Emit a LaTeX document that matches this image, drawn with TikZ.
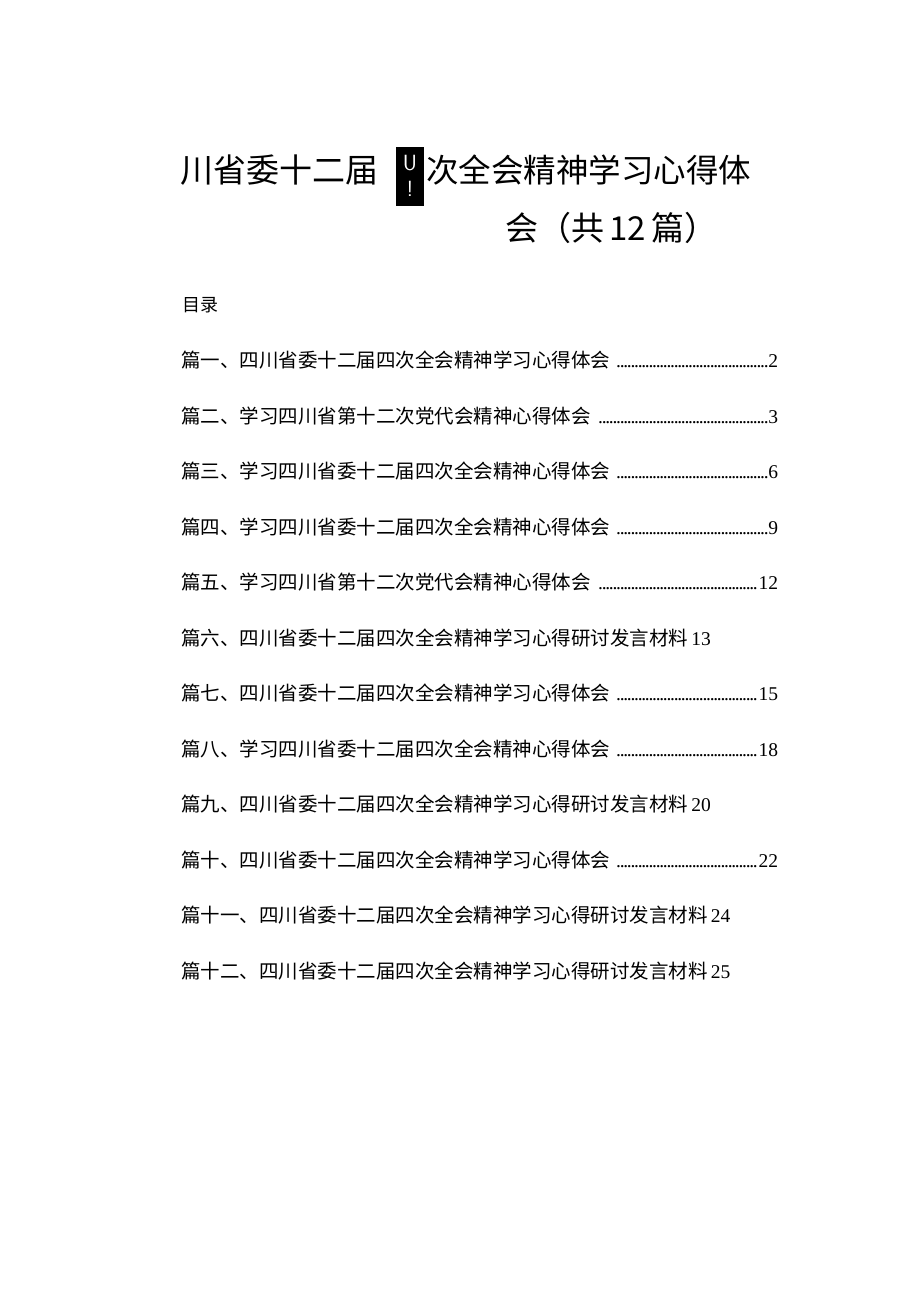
\documentclass[tikz,border=0pt]{standalone}
\usepackage{fontspec}
\setmainfont{Liberation Serif}
\newfontfamily\cjk{Noto Sans CJK SC}
\newcommand{\tocdots}{\leaders\hbox to 3.6pt{\hss.\hss}\hfill}
\tikzset{
  tocline/.style={anchor=west, inner sep=0pt, font=\fontsize{19.5}{19.5}\selectfont},
}
\begin{document}
\begin{tikzpicture}[x=1pt,y=-1pt]
\useasboundingbox[fill=white] (0,0) rectangle (920,1301);
% title
\node[anchor=west, inner sep=0pt, font=\cjk\fontsize{33}{33}\selectfont] (title1) at (180,170) {川省委十二届};
\node[fill=black, text=white, minimum width=28pt, minimum height=59pt, inner sep=0pt, align=center, font=\fontsize{22}{26}\selectfont\sffamily] (mark) at (410,176) {U\\!};
\node[anchor=west, inner sep=0pt, font=\cjk\fontsize{32.5}{32.5}\selectfont] (title2) at (426,170) {次全会精神学习心得体};
\node[anchor=west, inner sep=0pt, font=\cjk\fontsize{33}{33}\selectfont] (title3) at (505,228) {会（共\,12\,篇）};
% contents
\node[tocline, font=\cjk\fontsize{18}{18}\selectfont] (mulu) at (182,305) {目录};
\foreach \t/\p/\d [count=\i] in {%
  篇一、四川省委十二届四次全会精神学习心得体会/2/1,
  篇二、学习四川省第十二次党代会精神心得体会/3/1,
  篇三、学习四川省委十二届四次全会精神心得体会/6/1,
  篇四、学习四川省委十二届四次全会精神心得体会/9/1,
  篇五、学习四川省第十二次党代会精神心得体会/12/1,
  篇六、四川省委十二届四次全会精神学习心得研讨发言材料/13/0,
  篇七、四川省委十二届四次全会精神学习心得体会/15/1,
  篇八、学习四川省委十二届四次全会精神心得体会/18/1,
  篇九、四川省委十二届四次全会精神学习心得研讨发言材料/20/0,
  篇十、四川省委十二届四次全会精神学习心得体会/22/1,
  篇十一、四川省委十二届四次全会精神学习心得研讨发言材料/24/0,
  篇十二、四川省委十二届四次全会精神学习心得研讨发言材料/25/0} {
  \ifnum\d=1
    \node[tocline] (item\i) at (181,305+55.5*\i) {\hbox to 597pt{{\cjk\t}\ \tocdots\p}};
  \else
    \node[tocline] (item\i) at (181,305+55.5*\i) {{\cjk\t}\,\p};
  \fi
}
\end{tikzpicture}
\end{document}
